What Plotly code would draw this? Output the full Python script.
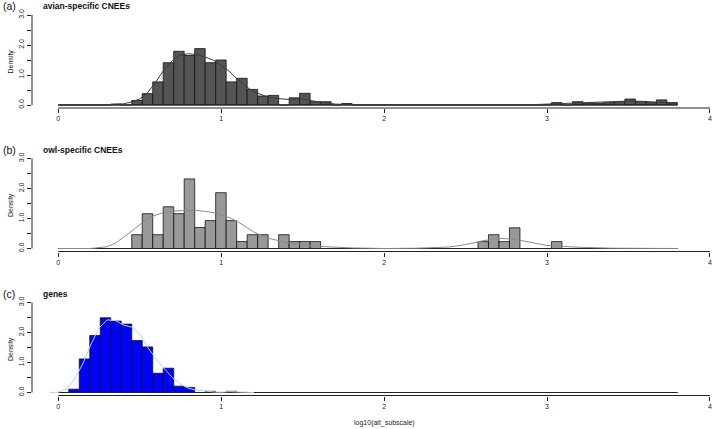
import numpy as np
import plotly.graph_objects as go

# histogram breaks shared by all three panels (R: seq(0, 3.8, length = 60))
BREAKS = np.linspace(0, 3.8, 60)

# density per bin (59 bins)
avian_density = [0, 0, 0, 0, 0, 0.03, 0, 0.15, 0.38, 0.77,
                 1.41, 1.79, 1.65, 1.88, 1.41, 1.50, 0.77, 0.89, 0.52, 0.30,
                 0.32, 0, 0.24, 0.39, 0.11, 0.11, 0, 0.05, 0, 0,
                 0, 0, 0, 0, 0, 0, 0, 0, 0, 0,
                 0, 0, 0, 0, 0, 0, 0, 0.08, 0, 0.11,
                 0.06, 0.06, 0.08, 0.11, 0.20, 0.11, 0.08, 0.17, 0.08]
owl_density = [0, 0, 0, 0, 0, 0, 0, 0.46, 1.16, 0.46,
               1.39, 1.16, 2.32, 0.70, 0.93, 1.86, 0.93, 0.23, 0.46, 0.46,
               0, 0.46, 0.23, 0.23, 0.23, 0, 0, 0, 0, 0,
               0, 0, 0, 0, 0, 0, 0, 0, 0, 0,
               0.23, 0.46, 0.23, 0.69, 0, 0, 0, 0.23, 0, 0,
               0, 0, 0, 0, 0, 0, 0, 0, 0]
genes_density = [0, 0.11, 1.12, 1.90, 2.49, 2.38, 2.28, 1.73, 1.52, 0.64,
                 0.81, 0.21, 0.17, 0, 0.04, 0, 0.04, 0, 0, 0,
                 0, 0, 0, 0, 0, 0, 0, 0, 0, 0,
                 0, 0, 0, 0, 0, 0, 0, 0, 0, 0,
                 0, 0, 0, 0, 0, 0, 0, 0, 0, 0,
                 0, 0, 0, 0, 0, 0, 0, 0, 0]

# kernel density curves
avian_kde_x = [0, 0.2, 0.3, 0.4, 0.45, 0.5, 0.55, 0.6, 0.65, 0.7, 0.75, 0.8, 0.85,
               0.9, 0.95, 1.0, 1.05, 1.1, 1.15, 1.2, 1.3, 1.4, 1.5, 1.6, 1.7, 1.8,
               2.0, 2.5, 2.9, 3.0, 3.1, 3.2, 3.3, 3.4, 3.5, 3.6, 3.7, 3.8]
avian_kde_y = [0, 0, 0.01, 0.04, 0.10, 0.20, 0.42, 0.78, 1.18, 1.48, 1.66, 1.71, 1.68,
               1.60, 1.50, 1.32, 1.12, 0.86, 0.63, 0.44, 0.24, 0.19, 0.20, 0.10, 0.03, 0.01,
               0, 0, 0.01, 0.03, 0.06, 0.08, 0.09, 0.11, 0.13, 0.12, 0.09, 0.05]
owl_kde_x = [0, 0.2, 0.3, 0.35, 0.4, 0.45, 0.5, 0.55, 0.6, 0.65, 0.7, 0.75, 0.8,
             0.85, 0.9, 0.95, 1.0, 1.05, 1.1, 1.15, 1.2, 1.25, 1.3, 1.4, 1.5, 1.6,
             1.7, 1.8, 2.0, 2.2, 2.4, 2.5, 2.6, 2.7, 2.8, 2.9, 3.0, 3.1, 3.2, 3.4, 3.8]
owl_kde_y = [0, 0, 0.06, 0.18, 0.37, 0.58, 0.80, 1.00, 1.12, 1.20, 1.24, 1.26, 1.28,
             1.27, 1.24, 1.20, 1.12, 1.03, 0.90, 0.72, 0.55, 0.43, 0.33, 0.20, 0.12, 0.07,
             0.04, 0.02, 0, 0.01, 0.05, 0.13, 0.25, 0.34, 0.31, 0.20, 0.10, 0.07, 0.04, 0.01, 0]
genes_kde_x = [-0.05, 0.0, 0.05, 0.1, 0.15, 0.2, 0.25, 0.3, 0.35, 0.4, 0.45, 0.5, 0.55,
               0.6, 0.65, 0.7, 0.75, 0.8, 0.85, 0.9, 0.95, 1.0, 1.05, 1.1, 1.15, 1.2]
genes_kde_y = [0, 0.01, 0.10, 0.45, 0.95, 1.60, 2.15, 2.42, 2.40, 2.25, 2.18, 1.95, 1.50,
               1.12, 0.80, 0.50, 0.28, 0.14, 0.08, 0.04, 0.02, 0.01, 0.03, 0.02, 0.01, 0]

x_ticks = [0, 1, 2, 3, 4]
y_ticks = [0, 0.5, 1, 1.5, 2, 2.5, 3]
y_ticktext = ["0.0", "", "1.0", "", "2.0", "", "3.0"]

panels = [
    ("(a)", "avian-specific CNEEs", avian_density, "#555555", avian_kde_x, avian_kde_y, "#3a3a3a"),
    ("(b)", "owl-specific CNEEs", owl_density, "#999999", owl_kde_x, owl_kde_y, "#8a8a8a"),
    ("(c)", "genes", genes_density, "#0000ff", genes_kde_x, genes_kde_y, "#add8e6"),
]
# pixel rows (bottom, top) of each panel's plotting region
rows_px = [(108, 12), (251.5, 155.5), (395.5, 299.5)]

W, H, L = 714, 429, 32
FONT = "Liberation Sans, Arial, sans-serif"

centers = (BREAKS[:-1] + BREAKS[1:]) / 2
bw = BREAKS[1] - BREAKS[0]

fig = go.Figure()
layout = dict(width=W, height=H, margin=dict(l=L, r=0, t=0, b=0, autoexpand=False),
              plot_bgcolor="white", paper_bgcolor="white", showlegend=False,
              font=dict(family=FONT, size=7, color="#222"))
shapes, annotations = [], []

for i, (tag, title, dens, fill, kx, ky, kcol) in enumerate(panels):
    n = "" if i == 0 else str(i + 1)
    xa, ya = "x" + n, "y" + n
    fig.add_scatter(x=[BREAKS[0], BREAKS[-1]], y=[0, 0], mode="lines",
                    line=dict(color="#222", width=1), xaxis=xa, yaxis=ya, hoverinfo="skip")
    fig.add_bar(x=centers, y=dens, width=bw, marker=dict(color=fill, line=dict(color="#111", width=0.8)),
                xaxis=xa, yaxis=ya)
    fig.add_scatter(x=kx, y=ky, mode="lines", line=dict(color=kcol, width=1),
                    xaxis=xa, yaxis=ya)

    bottom, top = rows_px[i]
    layout["xaxis" + n] = dict(range=[-0.1614, 4.025], domain=[0, 1], anchor=ya, automargin=False,
                               tickvals=x_ticks, ticks="outside", ticklen=4, tickcolor="#222",
                               showgrid=False, zeroline=False, showline=False,
                               tickfont=dict(size=7, color="#222"))
    layout["yaxis" + n] = dict(range=[-0.1, 3.1], domain=[(H - bottom) / H, (H - top) / H], anchor=xa,
                               automargin=False,
                               tickvals=y_ticks, ticktext=y_ticktext, tickangle=-90,
                               ticks="outside", ticklen=4, tickcolor="#222",
                               showgrid=False, zeroline=False, showline=False,
                               tickfont=dict(size=7, color="#222"))
    # R-style axis lines that only span the tick range
    shapes.append(dict(type="line", xref=xa, yref=ya + " domain", x0=0, x1=4, y0=0, y1=0,
                       line=dict(color="#222", width=1)))
    shapes.append(dict(type="line", xref=xa + " domain", yref=ya, x0=0, x1=0, y0=0, y1=3,
                       line=dict(color="#222", width=1)))

    mid_y = (H - (bottom - 3 + top + 6) / 2) / H
    annotations += [
        dict(text=tag, xref="paper", yref="paper", x=(1 - L) / (W - L), y=(H - (top - 5.5)) / H,
             xanchor="left", yanchor="middle", showarrow=False, font=dict(size=10.5, color="#111")),
        dict(text="<b>" + title + "</b>", xref="paper", yref="paper", x=(41 - L) / (W - L),
             y=(H - (top - 5.5)) / H, xanchor="left", yanchor="middle", showarrow=False,
             font=dict(size=8.5, color="#111")),
        dict(text="Density", xref="paper", yref="paper", x=(11 - L) / (W - L), y=mid_y,
             textangle=-90, xanchor="center", yanchor="middle", showarrow=False,
             font=dict(size=7, color="#222")),
    ]

annotations.append(dict(text="log10(alt_subscale)", xref="x3", yref="paper", x=2, y=(H - 423) / H,
                        xanchor="center", yanchor="middle", showarrow=False,
                        font=dict(size=7, color="#222")))
layout["shapes"] = shapes
layout["annotations"] = annotations
fig.update_layout(**layout)

# drop the browser's default 8px body margin so the figure sits at the page corner
fig.write_html("out.html", config={"displayModeBar": False},
               post_script="document.body.style.margin = '0';")
